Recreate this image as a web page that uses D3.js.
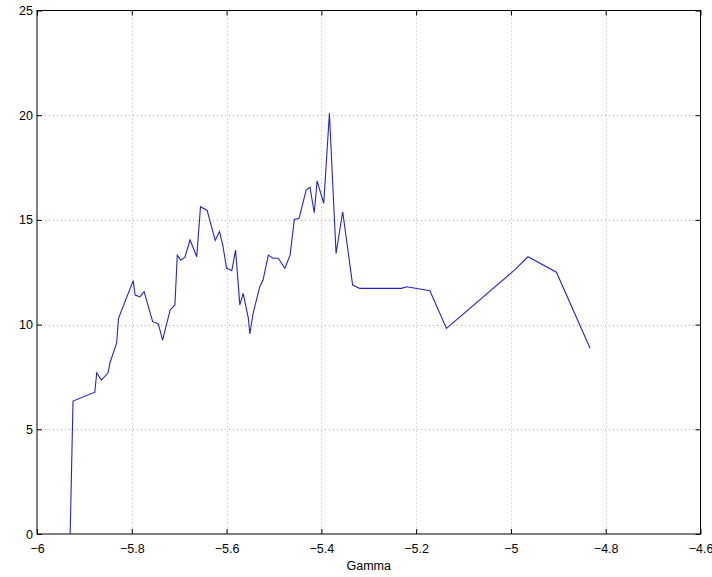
<!DOCTYPE html>
<html>
<head>
<meta charset="utf-8">
<script src="https://cdn.jsdelivr.net/npm/d3@7"></script>
<style>
  body { margin: 0; background: #fff; }
  svg { display: block; }
  text { font-family: "Liberation Sans", Arial, sans-serif; font-size: 12.5px; fill: #000; }
</style>
</head>
<body>
<svg id="chart" width="712" height="577"></svg>
<script>
// values
var gamma = [-5.930, -5.924, -5.878, -5.874, -5.864, -5.850, -5.846, -5.832, -5.828, -5.797,
	-5.793, -5.783, -5.774, -5.756, -5.744, -5.735, -5.719, -5.709, -5.704, -5.697,
	-5.688, -5.677, -5.663, -5.655, -5.641, -5.624, -5.615, -5.608, -5.600, -5.589,
	-5.581, -5.572, -5.565, -5.554, -5.551, -5.544, -5.530, -5.523, -5.512, -5.502,
	-5.491, -5.477, -5.466, -5.457, -5.447, -5.432, -5.424, -5.415, -5.409, -5.395,
	-5.383, -5.369, -5.355, -5.334, -5.319, -5.231, -5.220, -5.171, -5.136, -4.992,
	-4.964, -4.904, -4.833];
var values = [0, 6.35, 6.77, 7.70, 7.35, 7.70, 8.18, 9.11, 10.30, 12.10,
	11.41, 11.33, 11.57, 10.14, 10.03, 9.26, 10.70, 10.94, 13.32, 13.09,
	13.21, 14.04, 13.24, 15.63, 15.45, 14.02, 14.44, 13.80, 12.70, 12.57,
	13.56, 10.94, 11.49, 10.30, 9.55, 10.54, 11.81, 12.13, 13.32, 13.17,
	13.17, 12.69, 13.32, 15.02, 15.08, 16.43, 16.56, 15.34, 16.86, 15.79,
	20.09, 13.40, 15.39, 11.89, 11.73, 11.73, 11.81, 11.62, 9.82, 12.61,
	13.24, 12.50, 8.87];
var xTicks = [-6, -5.8, -5.6, -5.4, -5.2, -5, -4.8, -4.6];
var yTicks = [0, 5, 10, 15, 20, 25];

var svg = d3.select("#chart");
//plot box edges (window.top is taken, so no plain "top")
var pLeft = 37, pRight = 700.5, pTop = 10.5, pBottom = 534;

var x = d3.scaleLinear().domain([-6, -4.6]).range([pLeft, pRight]);
var y = d3.scaleLinear().domain([0, 25]).range([pBottom, pTop]);

var fmt = function(d){ return String(d).replace("-", "\u2212"); };

//dotted grid
var grid = svg.append("g")
	.attr("stroke", "#b0b0b0")
	.attr("stroke-width", 1)
	.attr("stroke-dasharray", "1,3");
grid.selectAll("line.gx")
	.data(xTicks.slice(1, -1))
	.enter().append("line")
	.attr("x1", function(d){ return Math.round(x(d)) + 0.5; })
	.attr("x2", function(d){ return Math.round(x(d)) + 0.5; })
	.attr("y1", pTop).attr("y2", pBottom);
grid.selectAll("line.gy")
	.data(yTicks.slice(1, -1))
	.enter().append("line")
	.attr("y1", function(d){ return Math.round(y(d)) + 0.5; })
	.attr("y2", function(d){ return Math.round(y(d)) + 0.5; })
	.attr("x1", pLeft).attr("x2", pRight);

//the curve
var line = d3.line()
	.x(function(d, i){ return x(gamma[i]); })
	.y(function(d){ return y(d); });
svg.append("path")
	.datum(values)
	.attr("d", line)
	.attr("fill", "none")
	.attr("stroke", "#2424cc")
	.attr("stroke-width", 1.1);

//axes, ticks inward on all four sides
var bottomAxis = d3.axisBottom(x).tickValues(xTicks).tickSize(-5).tickPadding(10).tickFormat(fmt);
var topAxis = d3.axisTop(x).tickValues(xTicks).tickSize(-5).tickFormat("");
var leftAxis = d3.axisLeft(y).tickValues(yTicks).tickSize(-5).tickPadding(4).tickFormat(fmt);
var rightAxis = d3.axisRight(y).tickValues(yTicks).tickSize(-5).tickFormat("");

function styleAxis(g){
	g.select(".domain").remove();
	g.selectAll(".tick line").attr("stroke", "#000");
	g.selectAll("text").attr("font-size", 12.5).attr("font-family", "Liberation Sans, Arial, sans-serif").attr("fill", "#111");
}
svg.append("g").attr("transform", "translate(0," + pBottom + ")").call(bottomAxis).call(styleAxis);
svg.append("g").attr("transform", "translate(0," + pTop + ")").call(topAxis).call(styleAxis);
svg.append("g").attr("transform", "translate(" + pLeft + ",0)").call(leftAxis).call(styleAxis);
svg.append("g").attr("transform", "translate(" + pRight + ",0)").call(rightAxis).call(styleAxis);

svg.append("rect")
	.attr("x", pLeft).attr("y", pTop)
	.attr("width", pRight - pLeft).attr("height", pBottom - pTop)
	.attr("fill", "none")
	.attr("stroke", "#000")
	.attr("stroke-width", 1);

svg.append("text")
	.attr("x", (pLeft + pRight) / 2)
	.attr("y", 570)
	.attr("text-anchor", "middle")
	.attr("fill", "#111")
	.text("Gamma");
</script>
</body>
</html>
